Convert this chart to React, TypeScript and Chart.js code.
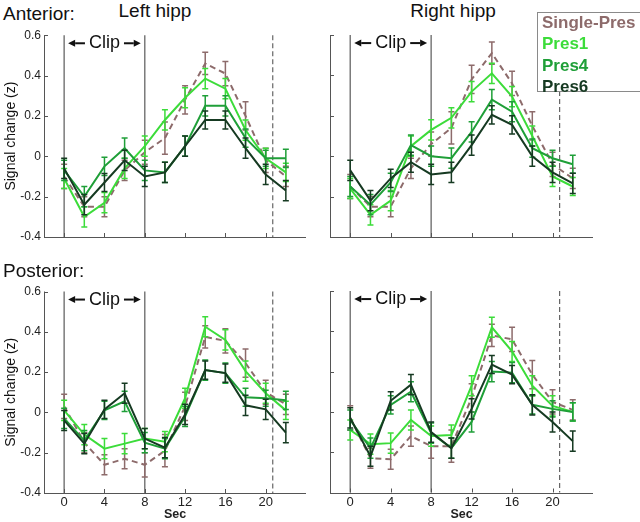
import React, { useEffect, useRef } from "react";
import { Chart, registerables } from "chart.js";

Chart.register(...registerables);

const FONT = "'Liberation Sans', Arial, Helvetica, sans-serif";

// ---- axes / categories ----
const SEC = [0, 2, 4, 6, 8, 10, 12, 14, 16, 18, 20, 22];
const X_TICKS = [0, 4, 8, 12, 16, 20];
const Y_TICKS = [-0.4, -0.2, 0, 0.2, 0.4, 0.6];
const Y_TICK_LABELS = ["-0.4", "-0.2", "0", "0.2", "0.4", "0.6"];
const X_MIN = -2;
const X_MAX = 24;
const Y_MIN = -0.4;
const Y_MAX = 0.6;
const CLIP_START = 0;
const CLIP_END = 8;
const CLIP_MID = 4;
const CLIP_LABEL_Y = 0.56;
const TRIAL_END = 20.7;

const SERIES = ["Single-Pres", "Pres1", "Pres4", "Pres6"];
const COLORS = ["#8d6b6b", "#3cdc3a", "#1f9f38", "#163a22"];

// ---- Anterior, left hipp ----
const antLeftSingle = [-0.10, -0.25, -0.25, -0.07, 0.02, 0.09, 0.28, 0.46, 0.41, 0.20, -0.02, -0.10];
const antLeftPres1 = [-0.11, -0.30, -0.23, -0.06, 0.05, 0.18, 0.29, 0.385, 0.335, 0.13, -0.01, -0.08];
const antLeftPres4 = [-0.07, -0.20, -0.05, 0.04, -0.07, -0.08, 0.05, 0.25, 0.25, 0.09, -0.01, -0.01];
const antLeftPres6 = [-0.06, -0.24, -0.13, -0.02, -0.10, -0.08, 0.05, 0.18, 0.18, 0.04, -0.09, -0.17];

// ---- Anterior, right hipp ----
const antRightSingle = [-0.15, -0.25, -0.25, -0.06, 0.06, 0.14, 0.38, 0.51, 0.36, 0.15, -0.04, -0.11];
const antRightPres1 = [-0.16, -0.29, -0.22, 0.05, 0.13, 0.19, 0.32, 0.41, 0.295, 0.10, -0.10, -0.15];
const antRightPres4 = [-0.15, -0.24, -0.13, 0.055, 0.0, -0.01, 0.12, 0.28, 0.22, 0.04, -0.01, -0.04];
const antRightPres6 = [-0.07, -0.22, -0.11, -0.03, -0.09, -0.08, 0.055, 0.205, 0.155, 0.0, -0.08, -0.135];

// ---- Posterior, left hipp ----
const postLeftSingle = [0.03, -0.15, -0.26, -0.23, -0.26, -0.19, 0.03, 0.375, 0.355, 0.245, 0.10, 0.04];
const postLeftPres1 = [0.01, -0.11, -0.18, -0.155, -0.13, -0.145, 0.07, 0.425, 0.36, 0.205, 0.095, 0.01];
const postLeftPres4 = [-0.03, -0.14, 0.01, 0.055, -0.15, -0.18, -0.02, 0.21, 0.195, 0.075, 0.07, 0.06];
const postLeftPres6 = [-0.04, -0.155, 0.015, 0.095, -0.13, -0.175, -0.01, 0.21, 0.195, 0.035, 0.015, -0.10];

// ---- Posterior, right hipp ----
const postRightSingle = [-0.03, -0.23, -0.235, -0.12, -0.17, -0.17, 0.07, 0.38, 0.36, 0.185, 0.05, 0.01];
const postRightPres1 = [-0.09, -0.16, -0.155, -0.04, -0.12, -0.115, 0.13, 0.42, 0.30, 0.13, 0.03, 0.0];
const postRightPres4 = [-0.04, -0.18, 0.035, 0.10, -0.105, -0.18, -0.05, 0.20, 0.195, 0.035, 0.015, 0.0];
const postRightPres6 = [-0.03, -0.22, 0.055, 0.135, -0.10, -0.18, 0.015, 0.235, 0.185, 0.035, -0.05, -0.145];

// ---- standard errors (half-widths) ----
const errSingle = [0.06, 0.05, 0.05, 0.05, 0.06, 0.08, 0.07, 0.055, 0.06, 0.07, 0.06, 0.05];
const errPres1 = [0.05, 0.05, 0.05, 0.05, 0.05, 0.05, 0.05, 0.05, 0.05, 0.05, 0.05, 0.045];
const errPres4 = [0.05, 0.05, 0.045, 0.05, 0.05, 0.05, 0.05, 0.05, 0.05, 0.045, 0.04, 0.045];
const errPres6 = [0.05, 0.05, 0.045, 0.05, 0.05, 0.05, 0.05, 0.045, 0.045, 0.05, 0.05, 0.05];
const ERRORS = [errSingle, errPres1, errPres4, errPres6];

type PanelDef = {
  key: string;
  left: number;
  top: number;
  width: number;
  height: number;
  pad: { left: number; right: number; top: number; bottom: number };
  yWidth: number;
  xHeight: number;
  yLabels: boolean;
  xLabels: boolean;
  series: number[][];
};

const PANELS: PanelDef[] = [
  {
    key: "antLeft", left: 0, top: 25, width: 320, height: 235,
    pad: { left: 0, right: 14, top: 10, bottom: 0 }, yWidth: 44, xHeight: 23,
    yLabels: true, xLabels: false,
    series: [antLeftSingle, antLeftPres1, antLeftPres4, antLeftPres6],
  },
  {
    key: "antRight", left: 320, top: 25, width: 320, height: 235,
    pad: { left: 0, right: 47, top: 10, bottom: 0 }, yWidth: 10, xHeight: 23,
    yLabels: false, xLabels: false,
    series: [antRightSingle, antRightPres1, antRightPres4, antRightPres6],
  },
  {
    key: "postLeft", left: 0, top: 270, width: 320, height: 252,
    pad: { left: 0, right: 14, top: 21.5, bottom: 0 }, yWidth: 44, xHeight: 29,
    yLabels: true, xLabels: true,
    series: [postLeftSingle, postLeftPres1, postLeftPres4, postLeftPres6],
  },
  {
    key: "postRight", left: 320, top: 270, width: 320, height: 252,
    pad: { left: 0, right: 47, top: 21, bottom: 0 }, yWidth: 10, xHeight: 29.5,
    yLabels: false, xLabels: true,
    series: [postRightSingle, postRightPres1, postRightPres4, postRightPres6],
  },
];

function drawArrow(ctx: CanvasRenderingContext2D, fromX: number, toX: number, y: number) {
  const dir = toX > fromX ? 1 : -1;
  const headLen = 7;
  ctx.beginPath();
  ctx.moveTo(fromX, y);
  ctx.lineTo(toX - dir * headLen, y);
  ctx.stroke();
  ctx.beginPath();
  ctx.moveTo(toX, y);
  ctx.lineTo(toX - dir * headLen, y - 3.5);
  ctx.lineTo(toX - dir * headLen, y + 3.5);
  ctx.closePath();
  ctx.fill();
}

const decorPlugin = {
  id: "panelDecor",
  beforeDatasetsDraw(chart: any) {
    const { ctx, chartArea: a, scales } = chart;
    const x = scales.x;
    const y = scales.y;
    ctx.save();
    // clip boundaries
    ctx.strokeStyle = "#7a7a7a";
    ctx.lineWidth = 1.5;
    [CLIP_START, CLIP_END].forEach((v) => {
      const px = x.getPixelForValue(v);
      ctx.beginPath();
      ctx.moveTo(px, a.top);
      ctx.lineTo(px, a.bottom);
      ctx.stroke();
    });
    // trial end dashed line
    ctx.setLineDash([5, 3]);
    ctx.strokeStyle = "#666";
    ctx.lineWidth = 1.2;
    const dx = x.getPixelForValue(TRIAL_END);
    ctx.beginPath();
    ctx.moveTo(dx, a.top);
    ctx.lineTo(dx, a.bottom);
    ctx.stroke();
    ctx.setLineDash([]);
    // axes
    ctx.strokeStyle = "#555";
    ctx.lineWidth = 1;
    ctx.beginPath();
    ctx.moveTo(Math.round(a.left) + 0.5, a.top);
    ctx.lineTo(Math.round(a.left) + 0.5, Math.round(a.bottom) + 0.5);
    ctx.lineTo(a.right, Math.round(a.bottom) + 0.5);
    ctx.stroke();
    ctx.beginPath();
    X_TICKS.forEach((v) => {
      const px = Math.round(x.getPixelForValue(v)) + 0.5;
      ctx.moveTo(px, a.bottom);
      ctx.lineTo(px, a.bottom - 4);
    });
    Y_TICKS.forEach((v) => {
      const py = Math.round(y.getPixelForValue(v)) + 0.5;
      ctx.moveTo(a.left, py);
      ctx.lineTo(a.left + 4, py);
    });
    ctx.stroke();
    // "<- Clip ->"
    ctx.font = `18px ${FONT}`;
    ctx.fillStyle = "#111";
    ctx.strokeStyle = "#111";
    ctx.lineWidth = 2;
    ctx.textAlign = "center";
    ctx.textBaseline = "middle";
    const cx = x.getPixelForValue(CLIP_MID);
    const cy = y.getPixelForValue(CLIP_LABEL_Y);
    ctx.fillText("Clip", cx, cy);
    const tw = ctx.measureText("Clip").width;
    drawArrow(ctx, cx - tw / 2 - 4, x.getPixelForValue(CLIP_START) + 4, cy);
    drawArrow(ctx, cx + tw / 2 + 4, x.getPixelForValue(CLIP_END) - 4, cy);
    ctx.restore();
  },
};

const errorBarPlugin = {
  id: "errorBars",
  afterDatasetDraw(chart: any, args: any) {
    const ds = chart.data.datasets[args.index];
    const errs: number[] = ds.errors;
    if (!errs) return;
    const y = chart.scales.y;
    const ctx = chart.ctx;
    ctx.save();
    ctx.strokeStyle = ds.borderColor;
    ctx.lineWidth = 1.5;
    ctx.setLineDash([]);
    args.meta.data.forEach((pt: any, j: number) => {
      const v = ds.data[j].y;
      const e = errs[j];
      const top = y.getPixelForValue(v + e);
      const bot = y.getPixelForValue(v - e);
      ctx.beginPath();
      ctx.moveTo(pt.x, top);
      ctx.lineTo(pt.x, bot);
      ctx.moveTo(pt.x - 3, top);
      ctx.lineTo(pt.x + 3, top);
      ctx.moveTo(pt.x - 3, bot);
      ctx.lineTo(pt.x + 3, bot);
      ctx.stroke();
    });
    ctx.restore();
  },
};

function makeConfig(p: PanelDef): any {
  return {
    type: "line",
    data: {
      datasets: SERIES.map((name, i) => ({
        label: name,
        data: SEC.map((s, j) => ({ x: s, y: p.series[i][j] })),
        borderColor: COLORS[i],
        backgroundColor: COLORS[i],
        borderWidth: 2,
        borderDash: i === 0 ? [6, 4] : [],
        pointRadius: 0,
        tension: 0,
        fill: false,
        order: SERIES.length - i,
        errors: ERRORS[i],
      })),
    },
    options: {
      animation: false,
      responsive: false,
      maintainAspectRatio: false,
      layout: { padding: p.pad },
      plugins: { legend: { display: false }, tooltip: { enabled: false } },
      scales: {
        x: {
          type: "linear",
          min: X_MIN,
          max: X_MAX,
          afterBuildTicks: (s: any) => {
            s.ticks = X_TICKS.map((v) => ({ value: v }));
          },
          afterFit: (s: any) => {
            s.height = p.xHeight;
          },
          grid: { display: false, drawTicks: false },
          border: { display: false },
          ticks: {
            display: p.xLabels,
            padding: 2,
            color: "#222",
            font: { family: FONT, size: 13 },
            maxRotation: 0,
            autoSkip: false,
            callback: (v: number) => String(v),
          },
          title: {
            display: p.xLabels,
            text: "Sec",
            color: "#222",
            font: { family: FONT, size: 12.5, weight: "bold" },
            padding: { top: 0, bottom: 0 },
          },
        },
        y: {
          type: "linear",
          min: Y_MIN,
          max: Y_MAX,
          afterBuildTicks: (s: any) => {
            s.ticks = Y_TICKS.map((v) => ({ value: v }));
          },
          afterFit: (s: any) => {
            s.width = p.yWidth;
          },
          grid: { display: false, drawTicks: false },
          border: { display: false },
          ticks: {
            display: p.yLabels,
            padding: 3,
            color: "#222",
            font: { family: FONT, size: 12 },
            autoSkip: false,
            callback: (v: number) => {
              const idx = Y_TICKS.findIndex((t) => Math.abs(t - v) < 1e-9);
              return idx >= 0 ? Y_TICK_LABELS[idx] : "";
            },
          },
          title: {
            display: p.yLabels,
            text: "Signal change (z)",
            color: "#111",
            font: { family: FONT, size: 14 },
            padding: { top: 3, bottom: 0 },
          },
        },
      },
    },
    plugins: [decorPlugin, errorBarPlugin],
  };
}

function Panel({ p }: { p: PanelDef }) {
  const ref = useRef<HTMLCanvasElement>(null);
  useEffect(() => {
    const chart = new Chart(ref.current as HTMLCanvasElement, makeConfig(p));
    return () => chart.destroy();
  }, [p]);
  return (
    <canvas
      ref={ref}
      width={p.width}
      height={p.height}
      style={{ position: "absolute", left: p.left, top: p.top, width: p.width, height: p.height }}
    />
  );
}

const textStyle = (left: number, centerY: number, size: number, extra: any = {}) => ({
  position: "absolute" as const,
  left,
  top: centerY - 11,
  height: 22,
  lineHeight: "22px",
  fontFamily: FONT,
  fontSize: size,
  color: "#111",
  whiteSpace: "nowrap" as const,
  ...extra,
});

export default function App() {
  return (
    <div
      style={{
        position: "fixed",
        left: 0,
        top: 0,
        width: 640,
        height: 522,
        background: "#fff",
        overflow: "hidden",
      }}
    >
      {PANELS.map((p) => (
        <Panel key={p.key} p={p} />
      ))}
      <div style={textStyle(3, 14, 19)}>Anterior:</div>
      <div style={textStyle(105, 11, 19, { width: 100, textAlign: "center" })}>Left hipp</div>
      <div style={textStyle(403, 11, 19, { width: 100, textAlign: "center" })}>Right hipp</div>
      <div style={textStyle(3, 270.5, 19)}>Posterior:</div>
      <div
        style={{
          position: "absolute",
          left: 537,
          top: 12,
          width: 104,
          height: 80,
          border: "1.5px solid #8a8a8a",
          background: "#fff",
          boxSizing: "border-box",
        }}
      >
        {SERIES.map((name, i) => (
          <div
            key={name}
            style={{
              position: "absolute",
              left: 4,
              top: 10 + i * 21.3 - 11 - 12 + 12,
              height: 22,
              lineHeight: "22px",
              fontFamily: FONT,
              fontWeight: "bold",
              fontSize: 17,
              color: COLORS[i],
              whiteSpace: "nowrap",
            }}
          >
            {name}
          </div>
        ))}
      </div>
    </div>
  );
}
